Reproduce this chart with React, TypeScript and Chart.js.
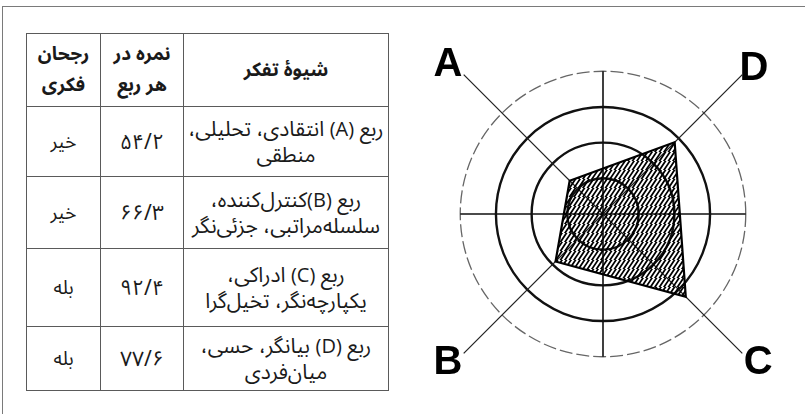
import React, { useEffect, useRef } from "react";
import { Chart, registerables } from "chart.js";

Chart.register(...registerables);

// ---- chart data ----
const axisLabels = ["A", "D", "C", "B"];
const quadrantValues = [33, 71, 82, 47];
const ringTicks = [0, 25, 50, 75, 100];
const scaleMax = 138;
const crossValue = 100;

// ---- table data ----
const headerStyle = "شیوهٔ تفکر";
const headerScore = ["نمره در", "هر ربع"];
const headerPreference = ["رجحان", "فکری"];
const styleLines = [
  ["ربع (A) انتقادی، تحلیلی،", "منطقی"],
  ["ربع (B)کنترل‌کننده،", "سلسله‌مراتبی، جزئی‌نگر"],
  ["ربع (C) ادراکی،", "یکپارچه‌نگر، تخیل‌گرا"],
  ["ربع (D) بیانگر، حسی،", "میان‌فردی"],
];
const scoreLabels = ["۵۴/۲", "۶۶/۳", "۹۲/۴", "۷۷/۶"];
const preferenceLabels = ["خیر", "خیر", "بله", "بله"];
const rowHeights = [73, 70, 72, 78, 64];

function makeHatch(): CanvasPattern | string {
  const size = 9;
  const tile = document.createElement("canvas");
  tile.width = size;
  tile.height = size;
  const c = tile.getContext("2d");
  if (!c) return "rgba(0,0,0,0.4)";
  c.strokeStyle = "#000";
  c.lineWidth = 1.8;
  c.beginPath();
  for (let k = -size; k <= 3 * size; k += size / 2) {
    c.moveTo(k - size, size + size);
    c.lineTo(k + size, -size);
  }
  c.stroke();
  const p = c.createPattern(tile, "repeat");
  return p || "rgba(0,0,0,0.4)";
}

const crossPlugin = {
  id: "crossLines",
  beforeDatasetsDraw(chart: any) {
    const r = chart.scales.r;
    const d = r.getDistanceFromCenterForValue(crossValue);
    const ctx = chart.ctx;
    ctx.save();
    ctx.strokeStyle = "#111";
    ctx.lineWidth = 1.6;
    ctx.beginPath();
    ctx.moveTo(r.xCenter - d, r.yCenter);
    ctx.lineTo(r.xCenter + d, r.yCenter);
    ctx.moveTo(r.xCenter, r.yCenter - d);
    ctx.lineTo(r.xCenter, r.yCenter + d);
    ctx.stroke();
    ctx.restore();
  },
};

function Radar() {
  const ref = useRef<HTMLCanvasElement | null>(null);
  useEffect(() => {
    if (!ref.current) return;
    const hatch = makeHatch();
    const chart = new Chart(ref.current, {
      type: "radar",
      data: {
        labels: axisLabels,
        datasets: [
          {
            data: quadrantValues,
            borderColor: "#000",
            borderWidth: 2.2,
            backgroundColor: hatch as any,
            fill: true,
            pointRadius: 0,
            pointHoverRadius: 0,
          },
        ],
      },
      options: {
        animation: false,
        responsive: false,
        maintainAspectRatio: false,
        layout: { padding: 0 },
        plugins: {
          legend: { display: false },
          tooltip: { enabled: false },
        },
        elements: { line: { tension: 0 } },
        scales: {
          r: {
            min: 0,
            max: scaleMax,
            startAngle: 315,
            afterBuildTicks: (s: any) => {
              s.ticks = ringTicks.map((v) => ({ value: v }));
            },
            ticks: { display: false },
            grid: {
              circular: true,
              color: (c: any) => (c.index === 4 ? "#666" : "#111"),
              lineWidth: (c: any) => (c.index === 4 ? 1.3 : 2.4),
            },
            border: {
              dash: (c: any) => (c.index === 4 ? [13, 4] : []),
            } as any,
            angleLines: { color: "#222", lineWidth: 1.2 },
            pointLabels: {
              color: "#000",
              padding: (c: any) => (c.index === 1 ? -4 : 2),
              font: {
                family: "'Liberation Sans', Arial, sans-serif",
                size: 40,
                weight: "bold",
                lineHeight: 0.42,
              },
            },
          },
        } as any,
      },
      plugins: [crossPlugin],
    });
    return () => chart.destroy();
  }, []);
  return (
    <canvas
      ref={ref}
      width={394}
      height={394}
      style={{ position: "absolute", left: 406, top: 17, width: 394, height: 394 }}
    />
  );
}

const cellBase: React.CSSProperties = {
  border: "1px solid #5a5a5a",
  textAlign: "center",
  verticalAlign: "middle",
  padding: 0,
  color: "#1a1a1a",
  lineHeight: "26px",
  whiteSpace: "nowrap",
};

function Mixed({ text }: { text: string }) {
  const parts = text.split(/(\([A-D]\))/);
  return (
    <>
      {parts.map((p, i) =>
        /^\([A-D]\)$/.test(p) ? (
          <span key={i} style={{ fontSize: 20, fontFamily: "'Open Sans', 'DejaVu Sans', sans-serif" }}>
            {p}
          </span>
        ) : (
          <React.Fragment key={i}>{p}</React.Fragment>
        )
      )}
    </>
  );
}

function Lines({ lines }: { lines: string[] }) {
  return (
    <>
      {lines.map((l, i) => (
        <React.Fragment key={i}>
          {i > 0 && <br />}
          <Mixed text={l} />
        </React.Fragment>
      ))}
    </>
  );
}

export default function App() {
  return (
    <div
      style={{
        position: "fixed",
        left: 0,
        top: 0,
        width: 805,
        height: 414,
        background: "#fff",
        overflow: "hidden",
        fontFamily: "'Noto Sans Arabic', 'Noto Naskh Arabic', 'DejaVu Sans', sans-serif",
      }}
    >
      <div
        style={{
          position: "absolute",
          left: 2,
          top: 6,
          width: 820,
          height: 420,
          borderTop: "1px solid #7a7a7a",
          borderLeft: "1px solid #7a7a7a",
        }}
      />
      <table
        dir="rtl"
        style={{
          position: "absolute",
          left: 26,
          top: 33,
          width: 363,
          borderCollapse: "collapse",
          tableLayout: "fixed",
          fontSize: 16,
        }}
      >
        <colgroup>
          <col style={{ width: 205 }} />
          <col style={{ width: 83 }} />
          <col style={{ width: 74 }} />
        </colgroup>
        <tbody>
          <tr style={{ height: rowHeights[0] }}>
            <td style={{ ...cellBase, fontWeight: "bold", fontSize: 19, lineHeight: "31px" }}>{headerStyle}</td>
            <td style={{ ...cellBase, fontWeight: "bold", fontSize: 19, lineHeight: "31px" }}>
              <Lines lines={headerScore} />
            </td>
            <td style={{ ...cellBase, fontWeight: "bold", fontSize: 19, lineHeight: "31px" }}>
              <Lines lines={headerPreference} />
            </td>
          </tr>
          {styleLines.map((lines, i) => (
            <tr key={i} style={{ height: rowHeights[i + 1] }}>
              <td style={{ ...cellBase, fontSize: 21 }}>
                <Lines lines={lines} />
              </td>
              <td style={{ ...cellBase, fontSize: 21 }}>{scoreLabels[i]}</td>
              <td style={{ ...cellBase, fontSize: 19 }}>{preferenceLabels[i]}</td>
            </tr>
          ))}
        </tbody>
      </table>
      <Radar />
    </div>
  );
}
